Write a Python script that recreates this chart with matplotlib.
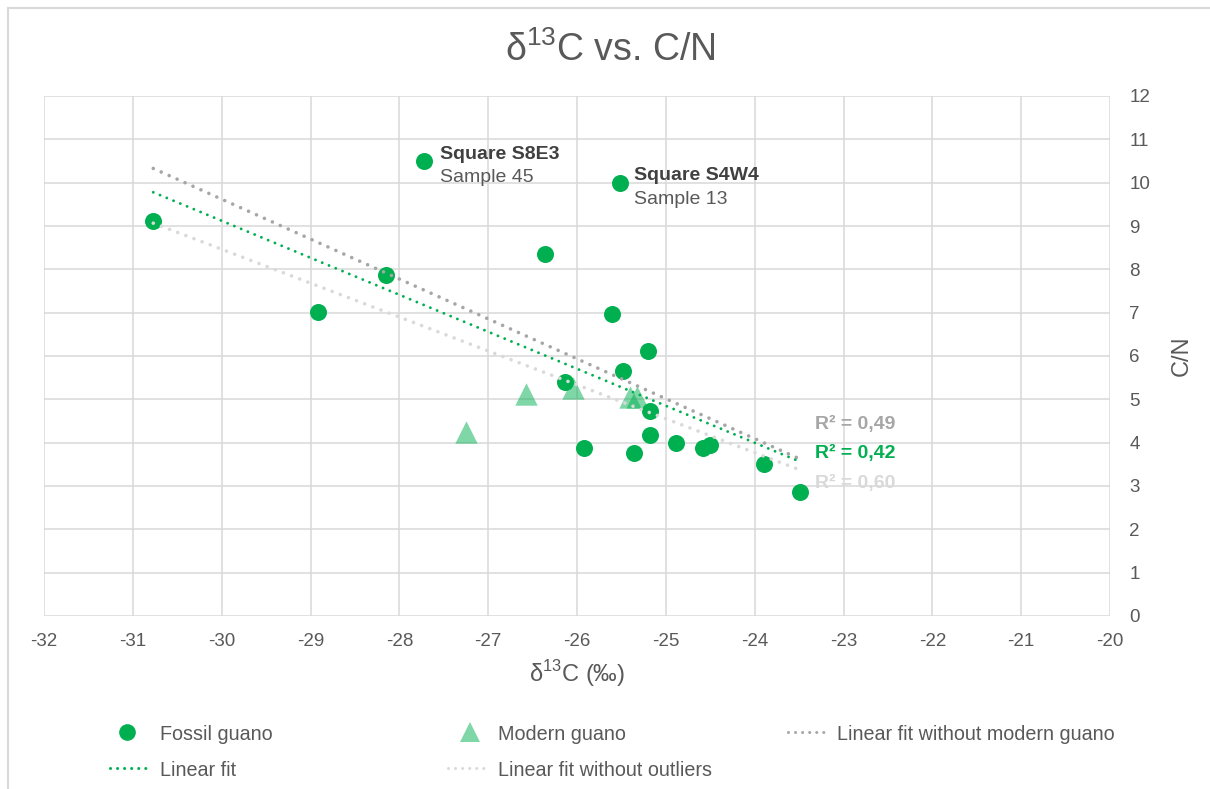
import numpy as np
import matplotlib
matplotlib.use("Agg")
import matplotlib.pyplot as plt
from matplotlib.lines import Line2D
from matplotlib.patches import Rectangle

plt.rcParams['font.family'] = ['Liberation Sans', 'DejaVu Sans']
plt.rcParams['axes.unicode_minus'] = False
plt.rcParams['mathtext.fontset'] = 'custom'
plt.rcParams['mathtext.rm'] = 'Liberation Sans'

# --- data ---
fossil_d13c = [-30.77, -28.15, -28.91, -27.72, -25.52, -26.36, -25.61, -25.20, -25.48,
               -26.14, -25.18, -25.18, -25.92, -25.36, -24.88, -24.58, -24.50, -23.89, -23.49]
fossil_cn = [9.11, 7.88, 7.01, 10.50, 10.00, 8.35, 6.97, 6.11, 5.66,
             5.40, 4.72, 4.17, 3.88, 3.77, 3.99, 3.87, 3.94, 3.50, 2.87]
modern_d13c = [-27.25, -26.57, -26.05, -25.40, -25.32]
modern_cn = [4.25, 5.12, 5.27, 5.05, 5.05]

outlier_idx = [3, 4]   # Square S8E3 / Square S4W4
r2_labels = ["R² = 0,49", "R² = 0,42", "R² = 0,60"]

GREEN = "#00b050"
DARK_GREY = "#a6a6a6"
LIGHT_GREY = "#d9d9d9"
TXT = "#595959"

fig = plt.figure(figsize=(12.1, 7.89), dpi=100)
fig.add_artist(Rectangle((8 / 1210, -0.1), 1.2, 1.1 - 8 / 789, transform=fig.transFigure,
                         fill=False, ec="#d9d9d9", lw=1.5))
ax = fig.add_axes([44 / 1210, 1 - 616 / 789, (1110 - 44) / 1210, (616 - 96) / 789])

ax.set_xlim(-32, -20)
ax.set_ylim(0, 12)
ax.set_xticks(np.arange(-32, -19, 1))
ax.set_yticks(np.arange(0, 13, 1))
ax.grid(True, color="#d9d9d9", lw=1.1)
ax.set_axisbelow(True)
for s in ax.spines.values():
    s.set_visible(False)
ax.yaxis.tick_right()
ax.yaxis.set_label_position("right")
ax.tick_params(length=0, labelsize=13.5, labelcolor=TXT, pad=14)
ax.tick_params(axis="x", pad=12)

ax.scatter(fossil_d13c, fossil_cn, s=150, color=GREEN, zorder=3, lw=0)
ax.scatter(modern_d13c, modern_cn, s=260, marker="^", color=GREEN, alpha=0.5, zorder=3, lw=0)

fx = np.array(fossil_d13c)
fy = np.array(fossil_cn)
all_x = np.concatenate([fx, modern_d13c])
all_y = np.concatenate([fy, modern_cn])
keep = np.ones(len(all_x), bool)
keep[outlier_idx] = False


def trend(x, y, color, lw, gap):
    k, b = np.polyfit(x, y, 1)
    xs = np.array([x.min(), x.max()])
    ax.plot(xs, k * xs + b, color=color, lw=lw, linestyle=(0, (0.01, gap)),
            dash_capstyle="round", zorder=4)


trend(all_x[keep], all_y[keep], LIGHT_GREY, 2.6, 2.4)
trend(fx, fy, DARK_GREY, 2.6, 2.4)
trend(all_x, all_y, GREEN, 2.1, 2.5)

# R² labels
for lab, yy, c in zip(r2_labels, [4.42, 3.75, 3.06], [DARK_GREY, GREEN, LIGHT_GREY]):
    ax.text(-23.32, yy, lab, color=c, fontsize=14, fontweight="bold", va="center", zorder=5)

# outlier labels
ax.text(-27.54, 10.64, "Square S8E3", color="#404040", fontsize=14, fontweight="bold", va="center")
ax.text(-27.54, 10.12, "Sample 45", color=TXT, fontsize=14, va="center")
ax.text(-25.36, 10.16, "Square S4W4", color="#404040", fontsize=14, fontweight="bold", va="center")
ax.text(-25.36, 9.61, "Sample 13", color=TXT, fontsize=14, va="center")

fig.text(610 / 1210, 1 - 50 / 789, r"δ$^{13}$C vs. C/N", ha="center", va="center",
         fontsize=27, color=TXT)
ax.set_xlabel(r"δ$^{13}$C (‰)", fontsize=17, color=TXT, labelpad=6)
ax.set_ylabel("C/N", fontsize=17, color=TXT, labelpad=15)

# legend, drawn by hand in figure pixels
def fx_(px):
    return px / 1210


def fy_(py):
    return 1 - py / 789


legend_items = [
    ("o", GREEN, 1.0, 127, 732, "Fossil guano", 160),
    ("^", GREEN, 0.5, 470, 732, "Modern guano", 498),
    ("l", DARK_GREY, 1.0, 808, 732, "Linear fit without modern guano", 837),
    ("l", GREEN, 1.0, 130, 768, "Linear fit", 160),
    ("l", LIGHT_GREY, 1.0, 468, 768, "Linear fit without outliers", 498),
]
for kind, c, a, mx, my, lab, tx in legend_items:
    if kind == "l":
        fig.add_artist(Line2D([fx_(mx - 20), fx_(mx + 20)], [fy_(my), fy_(my)], color=c,
                              lw=2.2, linestyle=(0, (0.01, 2.3)), dash_capstyle="round"))
    else:
        fig.add_artist(Line2D([fx_(mx)], [fy_(my)], marker=kind, color=c, alpha=a, lw=0,
                              markersize=12 if kind == "o" else 15, markeredgewidth=0))
    fig.text(fx_(tx), fy_(my + 3), lab, fontsize=14.2, color=TXT, va="center")

fig.savefig("out.png", dpi=100)
